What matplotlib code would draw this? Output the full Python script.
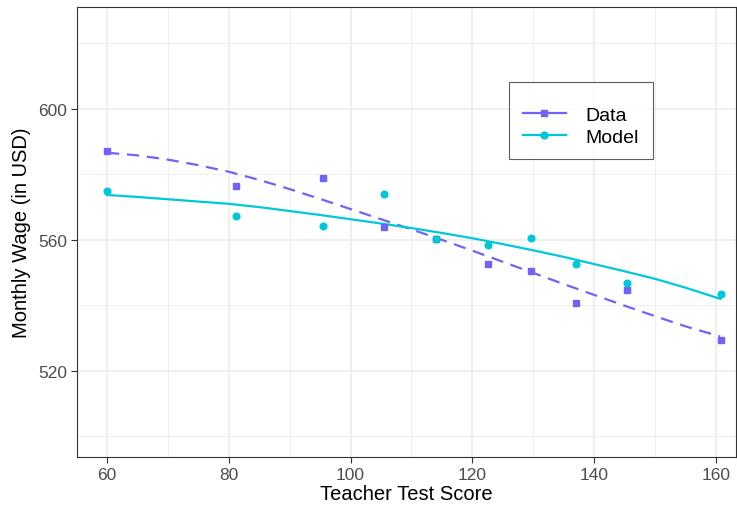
import matplotlib
matplotlib.use("Agg")
import matplotlib.pyplot as plt
from matplotlib.lines import Line2D

plt.rcParams['font.family'] = ['Liberation Sans', 'DejaVu Sans']

# Points
score = [60.0, 81.2, 95.5, 105.5, 114.1, 122.6, 129.7, 137.1, 145.4, 160.8]
wage_data = [587.0, 576.3, 578.8, 563.9, 560.3, 552.5, 550.6, 540.8, 544.7, 529.5]
wage_model = [574.9, 567.4, 564.1, 574.0, 560.3, 558.3, 560.5, 552.5, 546.9, 543.5]

# Smoothed curves
curve_x = [60, 65, 70, 75, 80, 85, 90, 95, 100, 105, 110, 115, 120, 125,
           130, 135, 140, 145, 150, 155, 160.7]
curve_data = [586.6, 585.8, 584.5, 582.8, 580.8, 578.3, 575.5, 572.5, 569.4, 566.3,
              563.2, 560.0, 556.7, 553.3, 549.9, 546.5, 543.2, 539.9, 536.7, 533.6, 530.5]
curve_model = [573.7, 573.1, 572.4, 571.7, 571.0, 570.0, 568.8, 567.6, 566.3, 565.0,
               563.6, 562.1, 560.5, 558.7, 556.8, 554.8, 552.6, 550.4, 548.1, 545.4, 542.0]

xticks = [60, 80, 100, 120, 140, 160]
yticks = [520, 560, 600]

c_data = '#7362F8'
c_model = '#00C8D8'

fig = plt.figure(figsize=(7.37, 5.10), dpi=100)
ax = fig.add_axes([77/737, 52/510, 659/737, 450/510])

ax.set_xlim(55.07, 163.3)
ax.set_ylim(493.7, 631.1)

ax.set_xticks(xticks)
ax.set_yticks(yticks)
ax.set_xticks([70, 90, 110, 130, 150], minor=True)
ax.set_yticks([500, 540, 580, 620], minor=True)
ax.grid(True, which='major', color='#EBEBEB', linewidth=1.1)
ax.grid(True, which='minor', color='#EBEBEB', linewidth=0.55)
ax.set_axisbelow(True)
ax.tick_params(which='minor', length=0)
ax.tick_params(which='major', length=4, width=0.8, color='#333333',
               labelcolor='#4D4D4D', labelsize=12.5, pad=3)
for s in ax.spines.values():
    s.set_color('#333333')
    s.set_linewidth(0.8)

ax.plot(curve_x, curve_data, color=c_data, linewidth=1.6, linestyle=(0, (5.5, 3.5)))
ax.plot(curve_x, curve_model, color=c_model, linewidth=1.6)
ax.plot(score, wage_data, linestyle='none', marker='s', markersize=4.8, color=c_data)
ax.plot(score, wage_model, linestyle='none', marker='o', markersize=4.8, color=c_model)

ax.set_xlabel('Teacher Test Score', fontsize=14.5, labelpad=2)
ax.set_ylabel('Monthly Wage (in USD)', fontsize=14.5, labelpad=5)

handles = [Line2D([], [], color=c_data, marker='s', markersize=5, linewidth=1.6),
           Line2D([], [], color=c_model, marker='o', markersize=5, linewidth=1.6)]
leg = ax.legend(handles, ['Data', 'Model'], loc='upper left',
                bbox_to_anchor=((509 - 77) / 659, 1 - (83 - 8) / 450),
                frameon=True, fancybox=False, fontsize=14, handlelength=2.25,
                borderpad=0.7, labelspacing=0.2, handletextpad=1.0, borderaxespad=0,
                title=' ', title_fontsize=6)
leg.get_frame().set_edgecolor('#333333')
leg.get_frame().set_linewidth(0.8)

fig.savefig('out.png', dpi=100)
